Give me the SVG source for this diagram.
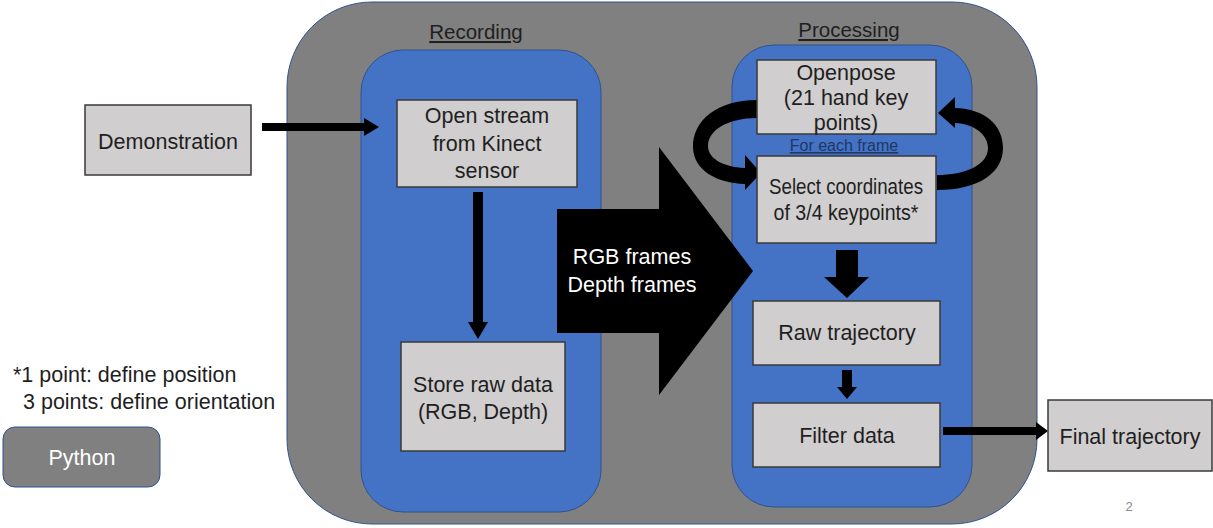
<svg xmlns="http://www.w3.org/2000/svg" width="1213" height="528" viewBox="0 0 1213 528">
  <style>
    .t { font-family: "Liberation Sans", Arial, sans-serif; font-size: 21.5px; fill: #1f1f1f; text-anchor: middle; }
    .w { fill: #ffffff; }
    .title { font-size: 20.5px; text-decoration: underline; }
    .box { fill: #d0cece; stroke: #3a3a3a; stroke-width: 1.5; }
    .panel { fill: #4472c4; stroke: #2f528f; stroke-width: 1; }
    .frame { fill: #808080; stroke: #2f528f; stroke-width: 1; }
    .arrowfill { fill: #000000; }
  </style>

  <!-- background frame -->
  <rect id="frame" class="frame" x="287" y="2" width="750" height="522" rx="85" ry="85"/>

  <!-- stage panels -->
  <g id="recording">
    <rect class="panel" x="361" y="50" width="240" height="462" rx="42" ry="42"/>
    <text class="t title" x="476" y="39">Recording</text>
  </g>
  <g id="processing">
    <rect class="panel" x="732" y="45" width="240" height="462" rx="42" ry="42"/>
    <text class="t title" x="849" y="37">Processing</text>
  </g>

  <!-- connectors -->
  <g id="connectors">
    <!-- Demonstration -> Open stream -->
    <rect class="arrowfill" x="262" y="123" width="104" height="8"/>
    <polygon class="arrowfill" points="364,118 379,127 364,136"/>
    <!-- Open stream -> Store raw data -->
    <rect class="arrowfill" x="473" y="192" width="10" height="132"/>
    <polygon class="arrowfill" points="468,322 488,322 478,339"/>
    <!-- big transfer arrow -->
    <polygon class="arrowfill" points="557,209 659,209 659,147 753,271 659,395 659,333 557,333"/>
    <!-- loop: Openpose -> Select -->
    <path class="arrowfill" d="M757,100 C718,100 692,120 693,148 C694,170 716,183 745,184 L745,190 L761,173 L745,155 L745,168 C722,167 708,158 708,146 C708,130 728,118 757,118 Z"/>
    <!-- loop: Select -> Openpose -->
    <path class="arrowfill" d="M937,190 C980,190 1003,172 1003,148 C1003,125 985,109 955,108 L955,97 L938,113 L955,128 L955,123 C975,124 988,135 988,148 C988,165 965,175 937,175 Z"/>
    <!-- Select -> Raw trajectory -->
    <polygon class="arrowfill" points="836,250 858,250 858,277 869,277 847,298 824,277 836,277"/>
    <!-- Raw trajectory -> Filter data -->
    <polygon class="arrowfill" points="842,370 852,370 852,387 857,387 847,399 837,387 842,387"/>
    <!-- Filter data -> Final trajectory -->
    <rect class="arrowfill" x="943" y="427" width="96" height="8"/>
    <polygon class="arrowfill" points="1036,422 1048,431 1036,440"/>
  </g>

  <!-- transfer arrow label -->
  <g id="frames-label">
    <text class="t w" x="632" y="264">RGB frames</text>
    <text class="t w" x="632" y="292">Depth frames</text>
  </g>

  <g id="demonstration">
    <rect class="box" x="85" y="105" width="166" height="70"/>
    <text class="t" x="168" y="149">Demonstration</text>
  </g>

  <g id="open-stream">
    <rect class="box" x="397" y="100" width="180" height="87"/>
    <text class="t" x="487" y="123">Open stream</text>
    <text class="t" x="487" y="151">from Kinect</text>
    <text class="t" x="487" y="178">sensor</text>
  </g>

  <g id="store-raw">
    <rect class="box" x="401" y="342" width="164" height="109"/>
    <text class="t" x="483" y="392">Store raw data</text>
    <text class="t" x="483" y="419">(RGB, Depth)</text>
  </g>

  <g id="openpose">
    <rect class="box" x="757" y="60" width="179" height="74"/>
    <text class="t" x="846" y="80">Openpose</text>
    <text class="t" x="846" y="105">(21 hand key</text>
    <text class="t" x="846" y="130">points)</text>
  </g>

  <g id="for-each-frame">
    <text class="t" x="844" y="151" style="font-size:16px; fill:#1f3864; text-decoration:underline">For each frame</text>
  </g>

  <g id="select">
    <rect class="box" x="757" y="156" width="179" height="87"/>
    <text class="t" x="846" y="194" textLength="154" lengthAdjust="spacingAndGlyphs">Select coordinates</text>
    <text class="t" x="846" y="220" textLength="145" lengthAdjust="spacingAndGlyphs">of 3/4 keypoints*</text>
  </g>

  <g id="raw-trajectory">
    <rect class="box" x="753" y="301" width="187" height="64"/>
    <text class="t" x="847" y="340">Raw trajectory</text>
  </g>

  <g id="filter-data">
    <rect class="box" x="753" y="403" width="187" height="64"/>
    <text class="t" x="847" y="443">Filter data</text>
  </g>

  <g id="final-trajectory">
    <rect class="box" x="1048" y="400" width="164" height="71"/>
    <text class="t" x="1130" y="444">Final trajectory</text>
  </g>

  <g id="footnote">
    <text class="t" x="13" y="382" style="text-anchor:start">*1 point: define position</text>
    <text class="t" x="23" y="409" style="text-anchor:start">3 points: define orientation</text>
  </g>

  <g id="python">
    <rect class="frame" x="3" y="427" width="157" height="60" rx="12" ry="12"/>
    <text class="t w" x="82" y="465">Python</text>
  </g>

  <text id="page-number" class="t" x="1129" y="511" style="font-size:13px; fill:#8a8a8a">2</text>
</svg>
